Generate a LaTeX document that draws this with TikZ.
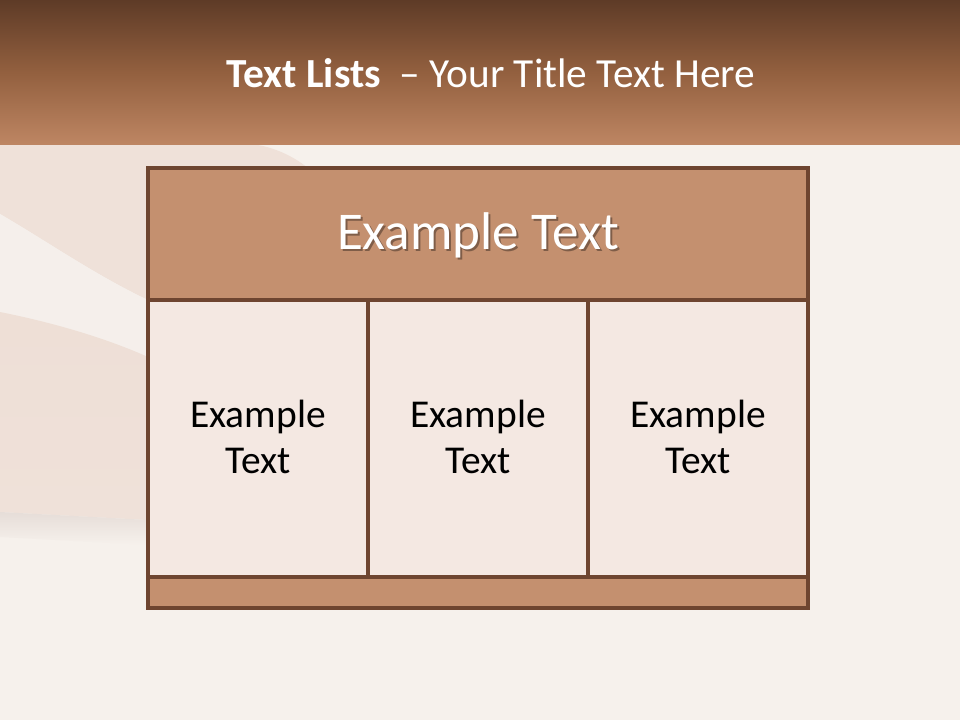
\documentclass[tikz,border=0pt]{standalone}
\usepackage{fontspec}
\setmainfont{Carlito}
\usetikzlibrary{calc}
\definecolor{bgc}{HTML}{F6F1EC}
\definecolor{bandtop}{HTML}{5E3B27}
\definecolor{bandmid}{HTML}{93603F}
\definecolor{bandbot}{HTML}{BE8663}
\definecolor{edge}{HTML}{6E4530}
\definecolor{headfill}{HTML}{C4906F}
\definecolor{cellfill}{HTML}{F4E8E2}
\definecolor{swA}{HTML}{EFE1D9}
\definecolor{swB}{HTML}{EEDFD6}
\definecolor{swC}{HTML}{F5EFEB}
\definecolor{swS}{HTML}{E6DDD8}
\tikzset{
  box/.style={draw=edge, line width=2.4pt},
  headbox/.style={box, fill=headfill},
  cellbox/.style={box, fill=cellfill},
  celltext/.style={font=\fontsize{29.6}{34.5}\selectfont, text=black, align=center},
  headtext/.style={font=\fontsize{39.8}{44}\selectfont, text=white},
}
\begin{document}
\begin{tikzpicture}[x=0.75pt,y=-0.75pt]
\useasboundingbox (0,0) rectangle (960,720);
% background
\fill[bgc] (0,0) rectangle (960,720);
% swooshes
\fill[swA] (0,145) -- (258,145) .. controls (285,150) and (310,165) .. (330,190) -- (330,300) -- (148,300)
  .. controls (95,275) and (45,240) .. (0,214) -- cycle;
\fill[swC] (0,214) .. controls (45,240) and (95,275) .. (148,300) -- (148,357) .. controls (110,340) and (60,324) .. (0,312) -- cycle;
\shade[top color=swB, bottom color=swA] (0,312) .. controls (60,324) and (110,340) .. (148,357) -- (148,520) -- (0,512) -- cycle;
\shade[top color=swS, bottom color=bgc] (0,512) -- (148,520) -- (148,545) -- (0,537) -- cycle;
% title band
\shade[top color=bandtop, bottom color=bandbot, middle color=bandmid] (0,0) rectangle (960,145);
\node[name=title, text=white, font=\fontsize{31}{37}\selectfont, anchor=base] at (491,88)
  {\textbf{Text Lists}\ \ – Your Title Text Here};
% table
\path[headbox] (148,168) rectangle (808,300);
\coordinate (hc) at (478,235);
\node[name=headshadow, headtext, text=black, opacity=0.35] at ($(hc)+(2,2)$) {Example Text};
\node[name=head, headtext] at (hc) {Example Text};
\path[cellbox] (148,300) rectangle (368,577);
\path[cellbox] (368,300) rectangle (588,577);
\path[cellbox] (588,300) rectangle (808,577);
\node[name=c1, celltext] at (258,437) {Example\\Text};
\node[name=c2, celltext] at (478,437) {Example\\Text};
\node[name=c3, celltext] at (698,437) {Example\\Text};
\path[headbox] (148,577) rectangle (808,608);
\end{tikzpicture}
\end{document}
